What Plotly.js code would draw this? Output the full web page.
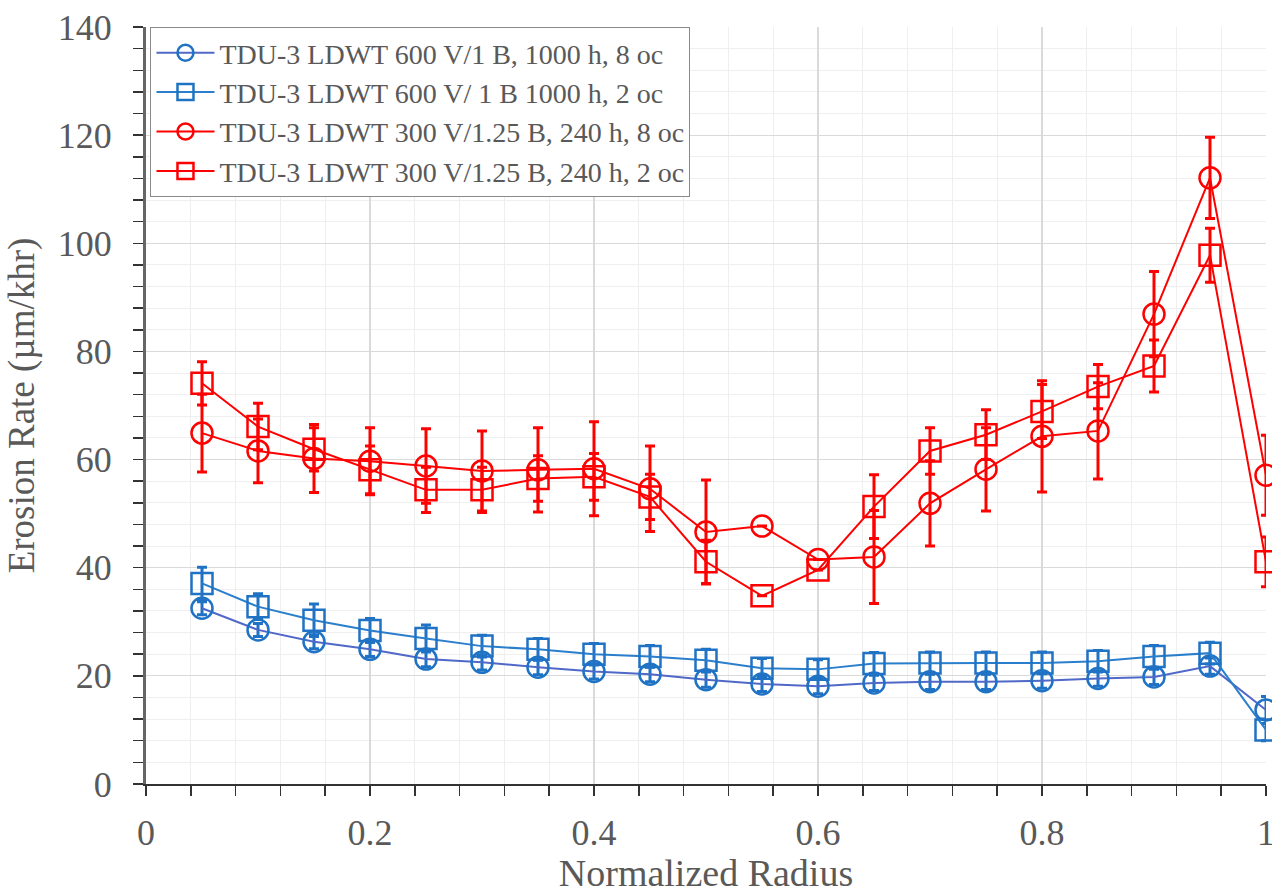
<!DOCTYPE html>
<html>
<head>
<meta charset="utf-8">
<script src="https://cdn.plot.ly/plotly-3.0.1.min.js"></script>
<style>html,body{margin:0;padding:0;background:#fff;}#chart{width:1272px;height:894px;}</style>
</head>
<body>
<div id="chart"></div>
<script>
const radius = [0.05,0.10,0.15,0.20,0.25,0.30,0.35,0.40,0.45,0.50,0.55,0.60,0.65,0.70,0.75,0.80,0.85,0.90,0.95,1.00];

const seriesNames = [
  "TDU-3 LDWT 600 V/1 B, 1000 h, 8 oc",
  "TDU-3 LDWT 600 V/ 1 B 1000 h, 2 oc",
  "TDU-3 LDWT 300 V/1.25 B, 240 h, 8 oc",
  "TDU-3 LDWT 300 V/1.25 B, 240 h, 2 oc"
];

const blue8 = [32.5,28.5,26.3,24.9,23.1,22.5,21.6,20.8,20.3,19.3,18.5,18.1,18.7,18.9,18.9,19.1,19.5,19.8,21.8,13.7];
const blue8Err = [1.2,1.2,1.3,1.3,1.4,1.4,1.4,1.4,1.4,1.4,1.4,1.4,1.4,1.4,1.4,1.4,1.4,1.4,1.5,2.5];

const blue2 = [37.1,32.8,30.3,28.4,26.9,25.5,24.9,24.0,23.6,22.9,21.4,21.2,22.3,22.4,22.4,22.4,22.7,23.6,24.2,10.0];
const blue2Err = [3.0,2.4,3.0,2.2,2.5,2.0,2.0,2.0,2.0,2.0,1.8,1.8,2.0,2.0,2.0,2.0,2.0,2.0,2.0,2.0];

const red8 = [64.9,61.6,60.2,59.7,58.8,57.9,58.1,58.3,54.6,46.6,47.7,41.5,42.0,51.9,58.2,64.3,65.3,86.9,112.1,57.1];
const red8Err = [7.2,5.9,6.3,6.2,6.9,7.4,7.8,8.7,7.9,9.6,null,null,8.6,7.9,7.7,10.3,8.9,7.9,7.5,7.4];

const red2 = [74.1,66.1,61.9,58.1,54.4,54.4,56.5,56.8,53.1,41.1,34.8,39.6,51.3,61.6,64.6,68.9,73.5,77.3,97.8,41.1];
const red2Err = [4.0,4.3,4.0,4.4,4.2,4.2,4.2,4.3,4.2,4.0,null,null,5.9,4.3,4.6,5.0,4.1,4.8,5.0,4.6];

function mk(name, y, err, symbol, markerColor, lineColor) {
  return {
    type: 'scatter', mode: 'lines+markers', name: name,
    x: radius, y: y, cliponaxis: false,
    line: {color: lineColor, width: 2},
    marker: {symbol: symbol, size: 21, color: markerColor, line: {color: markerColor, width: 2.5}},
    error_y: {type: 'data', array: err, visible: true, color: markerColor, thickness: 3, width: 5}
  };
}

const traces = [
  mk(seriesNames[0], blue8, blue8Err, 'circle-open', '#1f72c4', '#5068c8'),
  mk(seriesNames[1], blue2, blue2Err, 'square-open', '#1f72c4', '#2a7fcc'),
  mk(seriesNames[2], red8, red8Err, 'circle-open', '#ff0000', '#ff0000'),
  mk(seriesNames[3], red2, red2Err, 'square-open', '#ff0000', '#ff0000')
];

const fontFam = '"Liberation Serif", "Times New Roman", serif';
const layout = {
  width: 1272, height: 894,
  margin: {l: 146, r: 6, t: 27, b: 110},
  paper_bgcolor: '#ffffff', plot_bgcolor: '#ffffff',
  font: {family: fontFam, color: '#595959', size: 26},
  showlegend: true,
  legend: {
    x: 0.004, y: 1, xanchor: 'left', yanchor: 'top',
    bgcolor: '#ffffff', bordercolor: '#8a8a8a', borderwidth: 1,
    font: {family: fontFam, size: 28, color: '#595959'},
    tracegroupgap: 0, itemwidth: 58
  },
  xaxis: {
    range: [0, 1], dtick: 0.2, tick0: 0,
    showgrid: true, gridcolor: '#dadada', gridwidth: 1.2,
    minor: {dtick: 0.04, showgrid: true, gridcolor: '#efefef', gridwidth: 1, ticks: 'outside', ticklen: 10, tickcolor: '#333', tickwidth: 1.5},
    ticks: 'outside', ticklen: 10, tickcolor: '#333', tickwidth: 1.5,
    showline: true, linecolor: '#333', linewidth: 2,
    zeroline: false,
    tickfont: {family: fontFam, size: 36, color: '#595959'},
    ticklabelstandoff: 6,
    ticklabeloverflow: 'allow',
    title: {text: 'Normalized Radius', font: {family: fontFam, size: 38, color: '#595959'}, standoff: 10}
  },
  yaxis: {
    range: [0, 140], dtick: 20, tick0: 0,
    showgrid: true, gridcolor: '#dadada', gridwidth: 1.2,
    minor: {dtick: 4, showgrid: true, gridcolor: '#efefef', gridwidth: 1, ticks: 'outside', ticklen: 10, tickcolor: '#333', tickwidth: 1.5},
    ticks: 'outside', ticklen: 10, tickcolor: '#333', tickwidth: 1.5,
    showline: true, linecolor: '#666', linewidth: 3,
    zeroline: false,
    tickfont: {family: fontFam, size: 36, color: '#595959'},
    ticklabelstandoff: 14,
    title: {text: 'Erosion Rate (µm/khr)', font: {family: fontFam, size: 37, color: '#595959'}, standoff: 12}
  }
};

Plotly.newPlot('chart', traces, layout, {displayModeBar: false, staticPlot: true});
</script>
</body>
</html>
